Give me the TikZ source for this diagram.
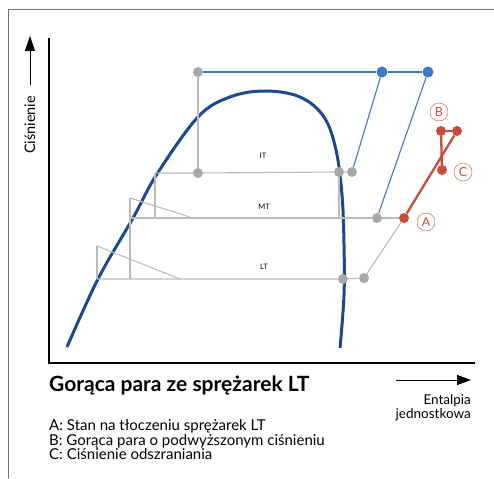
\documentclass[tikz,border=0pt]{standalone}
\usepackage{fontspec}
\setmainfont{Lato}
\usetikzlibrary{arrows.meta,positioning}
\definecolor{domeblue}{HTML}{1B4A8A}
\definecolor{lineblue}{HTML}{3A78C8}
\definecolor{hotred}{HTML}{C84B3C}
\definecolor{linegray}{HTML}{BBBBBB}
\definecolor{dotgray}{HTML}{A8A8A8}
\definecolor{framegray}{HTML}{707070}

\begin{document}
\begin{tikzpicture}[x=1pt, y=-1pt, >=Stealth,
  every node/.style={font=\fontsize{13.5}{14}\selectfont},
  gdot/.style={circle, fill=dotgray, inner sep=0pt, minimum size=10pt},
  bdot/.style={circle, fill=lineblue, inner sep=0pt, minimum size=11pt},
  rdot/.style={circle, fill=hotred, inner sep=0pt, minimum size=10pt},
  rtag/.style={circle, draw=hotred, text=hotred, inner sep=0pt, minimum size=18pt,
               font=\fontsize{12.5}{12}\selectfont},
  gline/.style={draw=linegray, line width=1.1pt},
  bline/.style={draw=lineblue, line width=1.1pt},
  rline/.style={draw=hotred, line width=2.3pt},
  level/.style={font=\fontsize{7.5}{8}\selectfont}]

  \useasboundingbox (0,0) rectangle (494,478);

  %% ─── Frame and axes ─────────────────────────────────────────────────────
  \draw[framegray, line width=1pt] (8,478) -- (8,10) -- (494,10);
  \coordinate (ytop) at (49,38);
  \coordinate (origin) at (49,363);
  \coordinate (xend) at (475,363);
  \draw[line width=1.3pt] (ytop) -- (origin) -- (xend);

  \node[rotate=90, anchor=center, font=\fontsize{14.5}{15}\selectfont] (plabel)
      at (30,125) {Ciśnienie};
  \coordinate (parrow_s) at (30,85);
  \coordinate (parrow_e) at (30,36);
  \draw[-{Triangle[length=15pt,width=10pt]}, line width=1pt] (parrow_s) -- (parrow_e);

  \coordinate (harrow_s) at (396,380);
  \coordinate (harrow_e) at (471,380);
  \draw[-{Triangle[length=14pt,width=10pt]}, line width=1pt] (harrow_s) -- (harrow_e);
  \node[anchor=north east, align=right, inner sep=0pt] (hlabel) at (471,394)
      {Entalpia\\jednostkowa};

  %% ─── Dome ───────────────────────────────────────────────────────────────
  \draw[domeblue, line width=3pt] plot[smooth, tension=0.6] coordinates {
      (67,347) (98,279) (133,218) (157,174) (198,117) (230,97) (265,91)
      (300,97) (324,117) (336,150) (342,195) (344,245) (344,295) (340,348)};

  %% ─── Points ─────────────────────────────────────────────────────────────
  \node[gdot] (top_g) at (198,72) {};
  \node[bdot] (top_b1) at (382,72) {};
  \node[bdot] (top_b2) at (428,72) {};

  \coordinate (it_l) at (155,173);
  \node[gdot] (it_m) at (198,173) {};
  \node[gdot] (it_v) at (339,172) {};
  \node[gdot] (it_r) at (352,172) {};

  \coordinate (mt_l) at (130,218);
  \coordinate (mt_st) at (155,218);
  \coordinate (mt_dv) at (339,218);
  \node[gdot] (mt_g) at (377,218) {};
  \node[rdot] (ptA) at (404,218) {};

  \coordinate (lt_l) at (97,279);
  \coordinate (lt_st) at (130,279);
  \node[gdot] (lt_v) at (343,279) {};
  \node[gdot] (lt_r) at (364,278) {};

  \node[rdot] (ptB1) at (441,131) {};
  \node[rdot] (ptB2) at (457,131) {};
  \node[rdot] (ptC) at (442,170) {};

  %% ─── Gray cycle lines ───────────────────────────────────────────────────
  \draw[gline] (top_g) -- (it_m);
  \draw[gline] (it_l) -- (it_m) -- (it_v) -- (it_r);
  \draw[gline] (it_l) -- (mt_st);
  \draw[gline] (it_v) -- (mt_dv);
  \draw[gline] (mt_l) -- (mt_g) -- (ptA);
  \coordinate (mt_tri) at (130,198);
  \coordinate (mt_tri_e) at (193,218);
  \draw[gline] (mt_tri) -- (lt_st);
  \draw[gline] (mt_tri) -- (mt_tri_e);
  \draw[gline] (lt_l) -- (lt_v) -- (lt_r) -- (ptA);
  \coordinate (lt_tri) at (97,246);
  \coordinate (lt_tri_e) at (180,279);
  \draw[gline] (lt_tri) -- (lt_l);
  \draw[gline] (lt_tri) -- (lt_tri_e);

  \node[level] (itlab) at (263,156) {IT};
  \node[level] (mtlab) at (264,207) {MT};
  \node[level] (ltlab) at (264,267) {LT};

  %% ─── Blue high pressure lines ───────────────────────────────────────────
  \draw[bline] (top_g) -- (top_b1) -- (top_b2);
  \draw[bline] (it_r) -- (top_b1);
  \draw[bline] (mt_g) -- (top_b2);

  %% ─── Red hot gas ────────────────────────────────────────────────────────
  \draw[rline] (ptA) -- (ptB2) -- (ptB1) -- (ptC);
  \node[rtag] (tagA) at (426,222) {A};
  \node[rtag] (tagB) at (439,112) {B};
  \node[rtag] (tagC) at (463,172) {C};

  %% ─── Captions ───────────────────────────────────────────────────────────
  \node[anchor=base west, inner sep=0pt, font=\fontsize{21}{21}\selectfont\bfseries] (title)
      at (49,391) {Gorąca para ze sprężarek LT};
  \node[anchor=north west, align=left, inner sep=0pt,
        font=\fontsize{15}{14.8}\selectfont] (legend) at (49,419)
      {A: Stan na tłoczeniu sprężarek LT\\
       B: Gorąca para o podwyższonym ciśnieniu\\
       C: Ciśnienie odszraniania};

\end{tikzpicture}
\end{document}
